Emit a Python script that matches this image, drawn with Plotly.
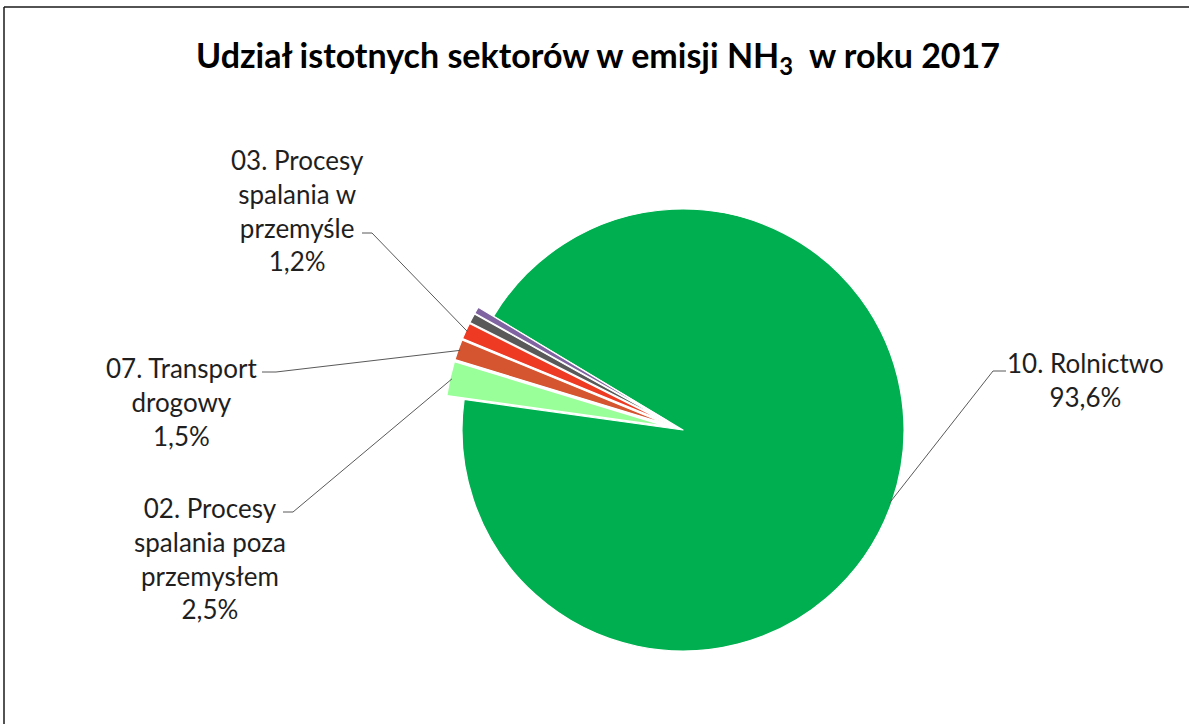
import math
import plotly.graph_objects as go

# ---- data ----
sectors = [
    "10. Rolnictwo",
    "02. Procesy spalania poza przemysłem",
    "07. Transport drogowy",
    "03. Procesy spalania w przemyśle",
    "Pozostałe sektory (1)",
    "Pozostałe sektory (2)",
]
shares = [93.6, 2.5, 1.5, 1.2, 0.7, 0.5]
label_lines = [
    ["10. Rolnictwo", "93,6%"],
    ["02. Procesy", "spalania poza", "przemysłem", "2,5%"],
    ["07. Transport", "drogowy", "1,5%"],
    ["03. Procesy", "spalania w", "przemyśle", "1,2%"],
    None,
    None,
]
colors = ["#00B050", "#99FF99", "#D4552F", "#EE3A22", "#595959", "#8064A2"]
pulls = [0, 0.08, 0.08, 0.08, 0.08, 0.08]

# ---- layout geometry (pixels) ----
W, H = 1189, 724
CX, CY, R = 683, 430, 221
ROT = -59  # start angle of first slice, clockwise from 12 o'clock
maxpull = max(pulls)
half = R * (1 + maxpull)
dom_x = [(CX - half) / W, (CX + half) / W]
dom_y = [1 - (CY + half) / H, 1 - (CY - half) / H]

# label text centres and leader stub (x_text_end, x_stub_end, y) in pixels
label_pos = [
    (1085, 380, 1006, 993, 371),
    (210, 558, 283, 293, 512),
    (181, 402, 262, 276, 372),
    (297, 211, 362, 372, 233),
    None,
    None,
]

FONT = "Lato, 'Open Sans', sans-serif"

fig = go.Figure(
    go.Pie(
        labels=sectors,
        values=shares,
        sort=False,
        direction="clockwise",
        rotation=ROT,
        pull=pulls,
        marker=dict(colors=colors, line=dict(color="white", width=1.2)),
        textinfo="none",
        hoverinfo="label+percent",
        domain=dict(x=dom_x, y=dom_y),
        showlegend=False,
    )
)


def px(x):
    return x / W


def py(y):
    return 1 - y / H


total = sum(shares)
cum = 0.0
annotations = []
shapes = []
for i, v in enumerate(shares):
    mid = (cum + v / 2) / total
    cum += v
    if label_lines[i] is None:
        continue
    theta = math.radians(ROT + 360 * mid)
    rho = R * (1 + pulls[i]) - 2
    ex = CX + rho * math.sin(theta)
    ey = CY - rho * math.cos(theta)
    tx, ty, sx0, sx1, sy = label_pos[i]
    annotations.append(
        dict(
            x=px(tx), y=py(ty), xref="paper", yref="paper",
            text="<br>".join(label_lines[i]),
            showarrow=False, align="center",
            xanchor="center", yanchor="middle",
            font=dict(family=FONT, size=26, color="#1f1f1f"),
        )
    )
    shapes.append(
        dict(
            type="path", xref="paper", yref="paper",
            path=f"M {px(sx0)},{py(sy)} L {px(sx1)},{py(sy)} L {px(ex)},{py(ey)}",
            line=dict(color="#595959", width=1),
        )
    )

# title
annotations.append(
    dict(
        x=px(598), y=py(57), xref="paper", yref="paper",
        text="<b>Udział istotnych sektorów w emisji NH<sub>3</sub>\u00a0\u00a0w roku 2017</b>",
        showarrow=False, xanchor="center", yanchor="middle",
        font=dict(family=FONT, size=34, color="#000000"),
    )
)

# chart frame (top and left edges visible)
shapes.append(dict(type="line", xref="paper", yref="paper",
                   x0=px(4), y0=py(7), x1=1.01, y1=py(7),
                   line=dict(color="#1a1a1a", width=1.5)))
shapes.append(dict(type="line", xref="paper", yref="paper",
                   x0=px(4), y0=py(7), x1=px(4), y1=-0.01,
                   line=dict(color="#1a1a1a", width=1.5)))

fig.update_layout(
    width=W, height=H,
    margin=dict(l=0, r=0, t=0, b=0),
    paper_bgcolor="white", plot_bgcolor="white",
    annotations=annotations, shapes=shapes,
)

fig.write_html(
    "out.html",
    config={"displayModeBar": False},
    post_script="document.body.style.margin='0';document.body.style.overflow='hidden';",
)
